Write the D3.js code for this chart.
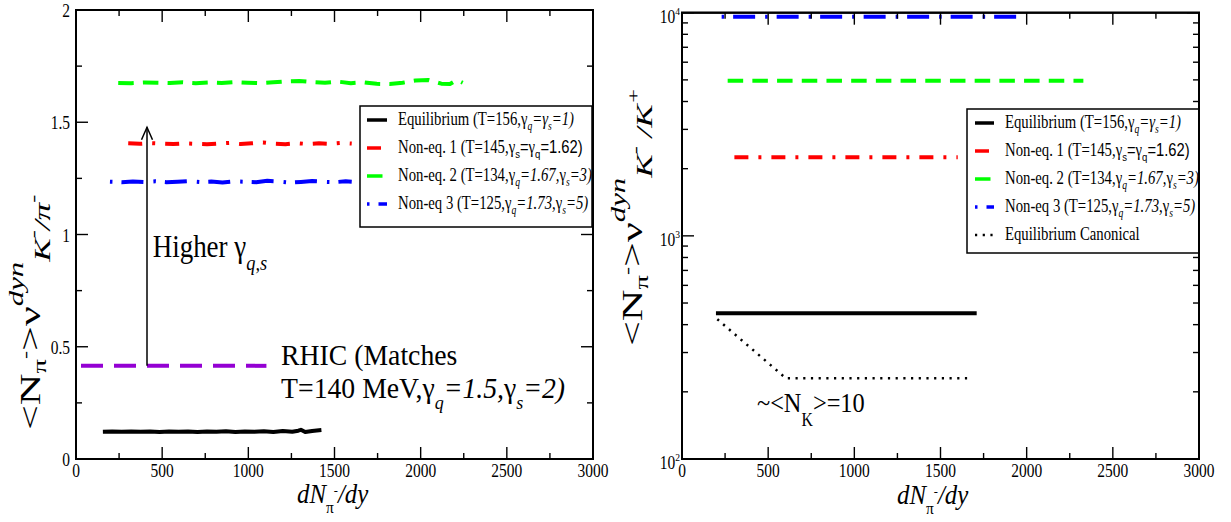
<!DOCTYPE html>
<html><head><meta charset="utf-8">
<script src="https://cdn.jsdelivr.net/npm/d3@7/dist/d3.min.js"></script>
<style>html,body{margin:0;padding:0;background:#fff;}svg{display:block;}</style>
</head><body>
<script>
// ---------------- DATA ----------------
const xTicks = [0, 500, 1000, 1500, 2000, 2500, 3000];
const xMinor = [250, 750, 1250, 1750, 2250, 2750];
const yTicksL = [0, 0.5, 1, 1.5, 2];
const yTickLabelsL = ["0", "0.5", "1", "1.5", "2"];
const yMinorL = [0.25, 0.75, 1.25, 1.75];
const yTicksR = [100, 1000, 10000];
const yTickExpR = ["2", "3", "4"];
const yMinorR = [200, 300, 400, 500, 600, 700, 800, 900, 2000, 3000, 4000, 5000, 6000, 7000, 8000, 9000];

// left panel series
const eqL_x = [156,210,265,320,375,430,485,540,595,650,705,760,815,870,925,980,1035,1090,1145,1200,1255,1290,1305,1330,1370,1424];
const eqL_y = [0.121,0.122,0.121,0.123,0.121,0.122,0.120,0.123,0.121,0.122,0.120,0.123,0.121,0.124,0.120,0.123,0.121,0.124,0.120,0.125,0.121,0.126,0.130,0.120,0.125,0.129];
const ne1L_x = [303,370,435,500,565,630,695,760,825,890,955,1020,1085,1150,1215,1280,1345,1410,1475,1540,1600];
const ne1L_y = [1.406,1.404,1.407,1.405,1.403,1.406,1.404,1.402,1.405,1.408,1.403,1.406,1.410,1.404,1.402,1.407,1.403,1.406,1.404,1.408,1.405];
const ne2L_x = [245,320,395,470,545,620,695,770,845,920,995,1070,1145,1220,1295,1370,1445,1520,1595,1670,1745,1820,1895,1970,2045,2120,2170,2210,2244];
const ne2L_y = [1.675,1.674,1.677,1.676,1.675,1.678,1.674,1.677,1.675,1.679,1.676,1.674,1.678,1.682,1.684,1.679,1.676,1.681,1.674,1.678,1.671,1.670,1.676,1.686,1.688,1.672,1.670,1.688,1.676];
const ne3L_x = [197,265,330,395,460,525,590,655,720,785,850,915,980,1045,1110,1175,1240,1305,1370,1435,1500,1565,1600];
const ne3L_y = [1.235,1.233,1.236,1.234,1.237,1.233,1.235,1.238,1.234,1.236,1.232,1.237,1.235,1.233,1.239,1.236,1.231,1.234,1.238,1.235,1.233,1.237,1.235];
const rhic_x = [29, 1105];
const rhic_y = [0.415, 0.415];
const arrow_x = [412, 412];
const arrow_y = [0.415, 1.4775];

// right panel series
const eqR_x = [197, 1710];
const eqR_y = [450, 450];
const canR_x = [205, 603, 1671];
const canR_y = [423, 230, 230];
const ne1R_x = [304, 1600];
const ne1R_y = [2250, 2250];
const ne2R_x = [265, 2329];
const ne2R_y = [4950, 4950];
const ne3R_x = [230, 2000];
const ne3R_y = [9600, 9600];

// ---------------- SETUP ----------------
const SERIF = "Liberation Serif, Times New Roman, serif";
const SANS = "Liberation Sans, Arial, sans-serif";
const SX = 0.86;

const svg = d3.select("body").append("svg").attr("width", 1231).attr("height", 522);
svg.append("rect").attr("width", 1231).attr("height", 522).attr("fill", "#fff");

const xL = d3.scaleLinear([0, 3000], [76, 593]);
const yL = d3.scaleLinear([0, 2], [459, 10]);
const xR = d3.scaleLinear([0, 3000], [682, 1199]);
const yR = d3.scaleLog([100, 10000], [459, 12.7]);

const C = {black: "#000", red: "#ff0000", green: "#00ff00", blue: "#0000ff", purple: "#9400d3"};
const DASH = {solid: null, red: "14,10,3,10", green: "15.5,9.2", blue: "2.5,9,22,10", purple: "22,11", dot: "2.2,5.5"};

function rich(parent, x, y, parts, o = {}) {
  const base = o.size || 18, sx = o.sx || SX;
  const g = parent.append("g").attr("transform", o.rotate
    ? `translate(${x},${y}) rotate(-90) scale(1,${sx})`
    : `translate(${x},${y}) scale(${sx},1)`);
  const t = g.append("text").attr("text-anchor", o.anchor || "start")
    .style("font-family", o.family || SERIF).attr("font-size", base).attr("fill", "#000");
  let cur = 0;
  parts.forEach(p => {
    let k = p.k || 1, off = (p.o || 0) * base;
    if (p.sub) { k = 0.65; off = 0.3 * base; }
    if (p.sup) { k = 0.65; off = -0.42 * base; }
    const s = t.append("tspan").text(p.t).attr("dy", off - cur).attr("font-size", base * k);
    cur = off;
    if (p.it) s.attr("font-style", "italic");
    if (p.fam) s.style("font-family", p.fam);
  });
  return t;
}

function drawSeries(g, xs, ys, xs_, ys_, color, dash, w) {
  const pts = xs.map((v, i) => [xs_(v), ys_(ys[i])]);
  g.append("path").attr("d", d3.line()(pts)).attr("fill", "none")
    .attr("stroke", color).attr("stroke-width", w).attr("stroke-linejoin", "round")
    .attr("stroke-dasharray", dash);
}

function frame(g, xs, ys) {
  const [x0, x1] = xs.range(), [y0, y1] = ys.range();
  const tk = g.append("g").attr("stroke", "#000").attr("stroke-width", 1.4);
  const tick = (xa, ya, xb, yb) => tk.append("line").attr("x1", xa).attr("y1", ya).attr("x2", xb).attr("y2", yb);
  xTicks.forEach(v => { tick(xs(v), y0, xs(v), y0 - 12); tick(xs(v), y1, xs(v), y1 + 12); });
  xMinor.forEach(v => { tick(xs(v), y0, xs(v), y0 - 6); tick(xs(v), y1, xs(v), y1 + 6); });
  return {tick, x0, x1, y0, y1};
}
function border(g, f) {
  g.append("rect").attr("x", f.x0).attr("y", f.y1).attr("width", f.x1 - f.x0).attr("height", f.y0 - f.y1)
    .attr("fill", "none").attr("stroke", "#000").attr("stroke-width", 2);
}

// ---------------- LEFT PANEL ----------------
const gL = svg.append("g");
drawSeries(gL, rhic_x, rhic_y, xL, yL, C.purple, DASH.purple, 4);
drawSeries(gL, eqL_x, eqL_y, xL, yL, C.black, DASH.solid, 4);
drawSeries(gL, ne2L_x, ne2L_y, xL, yL, C.green, DASH.green, 4);
drawSeries(gL, ne1L_x, ne1L_y, xL, yL, C.red, DASH.red, 4);
drawSeries(gL, ne3L_x, ne3L_y, xL, yL, C.blue, DASH.blue, 4);
{
  const ax = xL(arrow_x[0]), ay0 = yL(arrow_y[0]), ay1 = yL(arrow_y[1]);
  gL.append("line").attr("x1", ax).attr("y1", ay0).attr("x2", ax).attr("y2", ay1).attr("stroke", "#000").attr("stroke-width", 1.5);
  gL.append("path").attr("d", `M${ax - 5.5},${ay1 + 12.5}L${ax},${ay1}L${ax + 5.5},${ay1 + 12.5}`)
    .attr("fill", "none").attr("stroke", "#000").attr("stroke-width", 1.5);
}
const fL = frame(gL, xL, yL);
yTicksL.forEach(v => { fL.tick(fL.x0, yL(v), fL.x0 + 12, yL(v)); fL.tick(fL.x1, yL(v), fL.x1 - 12, yL(v)); });
yMinorL.forEach(v => { fL.tick(fL.x0, yL(v), fL.x0 + 6, yL(v)); fL.tick(fL.x1, yL(v), fL.x1 - 6, yL(v)); });
border(gL, fL);
xTicks.forEach(v => rich(gL, xL(v), 477, [{t: String(v)}], {anchor: "middle", size: 18}));
yTicksL.forEach((v, i) => rich(gL, 70, yL(v) + 7, [{t: yTickLabelsL[i]}], {anchor: "end", size: 18}));

// ---------------- RIGHT PANEL ----------------
const gR = svg.append("g");
drawSeries(gR, eqR_x, eqR_y, xR, yR, C.black, DASH.solid, 4);
drawSeries(gR, canR_x, canR_y, xR, yR, C.black, DASH.dot, 2.5);
drawSeries(gR, ne1R_x, ne1R_y, xR, yR, C.red, DASH.red, 4);
drawSeries(gR, ne2R_x, ne2R_y, xR, yR, C.green, DASH.green, 4);
drawSeries(gR, ne3R_x, ne3R_y, xR, yR, C.blue, DASH.blue, 4);
const fR = frame(gR, xR, yR);
yTicksR.forEach(v => { fR.tick(fR.x0, yR(v), fR.x0 + 12, yR(v)); fR.tick(fR.x1, yR(v), fR.x1 - 12, yR(v)); });
yMinorR.forEach(v => { fR.tick(fR.x0, yR(v), fR.x0 + 6, yR(v)); fR.tick(fR.x1, yR(v), fR.x1 - 6, yR(v)); });
border(gR, fR);
xTicks.forEach(v => rich(gR, xR(v), 477, [{t: String(v)}], {anchor: "middle", size: 18}));
yTicksR.forEach((v, i) => rich(gR, 680, yR(v) + 10, [{t: "10"}, {t: yTickExpR[i], k: 0.62, o: -0.45}], {anchor: "end", size: 18}));

// ---------------- LEGENDS ----------------
const legendParts = [
  [{t: "Equilibrium (T=156,γ"}, {t: "q", sub: 1, it: 1}, {t: "=γ", it: 1}, {t: "s", sub: 1, it: 1}, {t: "=1)", it: 1}],
  [{t: "Non-eq. 1 (T=145,γ"}, {t: "s", sub: 1, fam: SANS}, {t: "=", fam: SANS}, {t: "γ"}, {t: "q", sub: 1, fam: SANS}, {t: "=1.62)", fam: SANS}],
  [{t: "Non-eq. 2 (T=134,γ"}, {t: "q", sub: 1, it: 1}, {t: "=1.67,", it: 1}, {t: "γ"}, {t: "s", sub: 1, it: 1}, {t: "=3)", it: 1}],
  [{t: "Non-eq 3 (T=125,γ"}, {t: "q", sub: 1, it: 1}, {t: "=1.73,", it: 1}, {t: "γ"}, {t: "s", sub: 1, it: 1}, {t: "=5)", it: 1}],
  [{t: "Equilibrium Canonical"}]
];
const legendStyle = [
  {c: C.black, d: DASH.solid, w: 3.5},
  {c: C.red, d: DASH.red, w: 3.5},
  {c: C.green, d: DASH.green, w: 3.5},
  {c: C.blue, d: DASH.blue, w: 3.5},
  {c: C.black, d: DASH.dot, w: 2.5}
];
function legend(g, box, n, sampleX, textX, y0, dy) {
  g.append("rect").attr("x", box[0]).attr("y", box[1]).attr("width", box[2] - box[0]).attr("height", box[3] - box[1])
    .attr("fill", "#fff").attr("stroke", "#000").attr("stroke-width", 1.5);
  for (let i = 0; i < n; i++) {
    const y = y0 + i * dy, s = legendStyle[i];
    g.append("line").attr("x1", sampleX[0]).attr("x2", sampleX[1]).attr("y1", y - 5).attr("y2", y - 5)
      .attr("stroke", s.c).attr("stroke-width", s.w).attr("stroke-dasharray", s.d);
    rich(g, textX, y, legendParts[i], {size: 18, sx: 0.82});
  }
}
legend(gL, [360, 106, 592, 227], 4, [367, 387], 398, 125, 28);
legend(gR, [967, 109, 1199, 253], 5, [975, 994], 1005, 128, 28);
border(gL, fL); border(gR, fR);

// ---------------- AXIS TITLES ----------------
const xTitle = [{t: "dN", it: 1}, {t: "π", k: 0.62, o: 0.38}, {t: "-", k: 0.5, o: -0.3}, {t: "/dy", it: 1}];
rich(svg, 297, 503, xTitle, {size: 27, sx: 0.92});
rich(svg, 897, 504, xTitle, {size: 27, sx: 0.92});

const yTitleL = [{t: "<N"}, {t: "π", k: 0.65, o: 0.2}, {t: "-", k: 0.55, o: -0.3}, {t: ">"}, {t: "ν"},
  {t: "dyn", k: 0.7, o: -0.6, it: 1}, {t: "K", k: 0.8, o: 0.36, it: 1}, {t: "-", k: 0.55, o: -0.05, it: 1},
  {t: "/π", k: 0.8, o: 0.36, it: 1}, {t: "-", k: 0.55, o: -0.05, it: 1}];
const yTitleR = [{t: "<N"}, {t: "π", k: 0.65, o: 0.2}, {t: "-", k: 0.55, o: -0.3}, {t: ">"}, {t: "ν"},
  {t: "dyn", k: 0.7, o: -0.6, it: 1}, {t: "K", k: 0.8, o: 0.36, it: 1}, {t: "-", k: 0.55, o: -0.05, it: 1},
  {t: " /K", k: 0.8, o: 0.36, it: 1}, {t: "+", k: 0.55, o: -0.1, it: 1}];
rich(svg, 40, 430, yTitleL, {size: 44, rotate: true, sx: 0.66});
rich(svg, 642, 346, yTitleR, {size: 44, rotate: true, sx: 0.66});

// ---------------- ANNOTATIONS ----------------
rich(gL, xL(445), yL(0.9), [{t: "Higher γ"}, {t: "q,s", k: 0.68, o: 0.42, it: 1}], {size: 31, sx: 0.87});
rich(gL, xL(1190), yL(0.42), [{t: "RHIC (Matches"}], {size: 29.5, sx: 0.94});
rich(gL, xL(1190), yL(0.272), [{t: "T=140 MeV,γ"}, {t: "q", k: 0.65, o: 0.38, it: 1}, {t: "=1.5,", it: 1}, {t: "γ"}, {t: "s", k: 0.65, o: 0.38, it: 1}, {t: "=2)", it: 1}], {size: 29.5, sx: 0.94});
rich(gR, xR(435), 412, [{t: "~<N"}, {t: "K", k: 0.65, o: 0.5}, {t: ">=10"}], {size: 28, sx: 0.87});
</script>
</body></html>
